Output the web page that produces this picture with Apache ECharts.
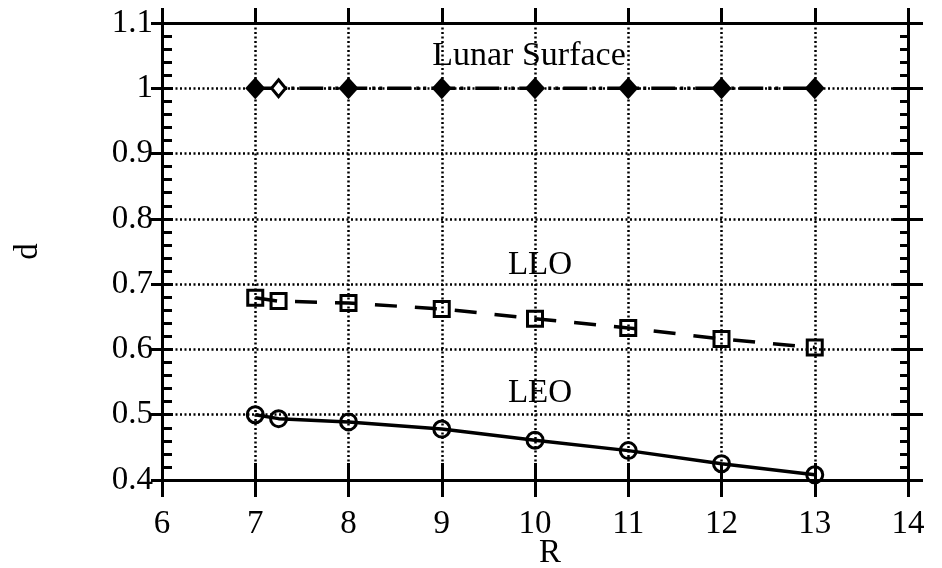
<!DOCTYPE html>
<html>
<head>
<meta charset="utf-8">
<script src="https://cdn.jsdelivr.net/npm/echarts@6/dist/echarts.min.js"></script>
<style>html,body{margin:0;padding:0;background:#fff}#c{width:942px;height:568px}</style>
</head>
<body>
<div id="c"></div>
<script>
const R_values = [7, 7.25, 8, 9, 10, 11, 12, 13];
const lunarSurface = [1.0, 1.0, 1.0, 1.0, 1.0, 1.0, 1.0, 1.0];
const llo = [0.679, 0.674, 0.671, 0.662, 0.647, 0.633, 0.616, 0.603];
const leo = [0.500, 0.494, 0.489, 0.478, 0.461, 0.445, 0.425, 0.408];
const seriesNames = ['Lunar Surface', 'LLO', 'LEO'];
const xTicks = [6, 7, 8, 9, 10, 11, 12, 13, 14];
const yTickLabels = ['0.4', '0.5', '0.6', '0.7', '0.8', '0.9', '1', '1.1'];

const FONT = '"Liberation Serif", "Times New Roman", serif';
const BLACK = '#000';
const FS = 33;

function pairs(xs, ys) { return xs.map((x, i) => [x, ys[i]]); }

const chart = echarts.init(document.getElementById('c'), null, {renderer: 'canvas'});

function xAx(pos, inside, len, opts) {
  return Object.assign({
    type: 'value', position: pos, min: 6, max: 14, interval: 1,
    axisLine: {show: true, onZero: false, lineStyle: {color: BLACK, width: 3}},
    axisTick: {show: true, inside: inside, length: len, lineStyle: {color: BLACK, width: 3}},
    axisLabel: {show: false},
    splitLine: {show: false}
  }, opts || {});
}
function yAx(pos, inside, len, opts) {
  return Object.assign({
    type: 'value', position: pos, min: 0.4, max: 1.1, interval: 0.1,
    axisLine: {show: true, onZero: false, lineStyle: {color: BLACK, width: 3}},
    axisTick: {show: true, inside: inside, length: len, lineStyle: {color: BLACK, width: 3}},
    axisLabel: {show: false},
    splitLine: {show: false}
  }, opts || {});
}

const openStyle = {color: 'rgba(0,0,0,0)', borderColor: BLACK, borderWidth: 3};

chart.setOption({
  animation: false,
  backgroundColor: '#fff',
  grid: {left: 162, right: 34, top: 23, bottom: 88, containLabel: false, outerBoundsMode: 'none'},
  xAxis: [
    xAx('bottom', false, 17, {
      name: 'R', nameLocation: 'middle', nameGap: 57, nameMoveOverlap: false,
      nameTextStyle: {fontFamily: FONT, fontSize: FS, color: BLACK, padding: [0, 0, 0, 30]},
      axisLabel: {show: true, fontFamily: FONT, fontSize: FS, color: BLACK, margin: 28,
        formatter: v => String(xTicks[xTicks.indexOf(v)])},
      splitLine: {show: true, lineStyle: {color: BLACK, width: 2.5, type: [2, 2.5]}}
    }),
    xAx('bottom', true, 17),
    xAx('top', false, 15)
  ],
  yAxis: [
    yAx('left', false, 11, {
      name: 'd', nameLocation: 'middle', nameGap: 117, nameRotate: 90, nameMoveOverlap: false,
      nameTextStyle: {fontFamily: FONT, fontSize: FS, color: BLACK},
      axisLabel: {show: true, fontFamily: FONT, fontSize: FS, color: BLACK, margin: 9,
        formatter: v => yTickLabels[Math.round((v - 0.4) * 10)]},
      splitLine: {show: true, lineStyle: {color: BLACK, width: 2.5, type: [2, 2.5]}}
    }),
    yAx('left', true, 11, {minorTick: {show: true, splitNumber: 5, length: 10, lineStyle: {color: BLACK, width: 3}}}),
    yAx('right', false, 15),
    yAx('right', true, 15, {minorTick: {show: true, splitNumber: 5, length: 8, lineStyle: {color: BLACK, width: 3}}})
  ],
  series: [
    {
      name: seriesNames[0], type: 'line', xAxisIndex: 0, yAxisIndex: 0, z: 5,
      data: pairs(R_values, lunarSurface).map((p, i) => i === 1
        ? {value: p, symbolSize: [14, 17], itemStyle: {color: '#fff', borderColor: BLACK, borderWidth: 3}}
        : {value: p}),
      symbol: 'diamond', symbolSize: [20, 22],
      itemStyle: {color: BLACK, borderColor: BLACK, borderWidth: 0},
      lineStyle: {color: BLACK, width: 3.5, type: [24, 5, 3, 4, 3, 5]}
    },
    {
      name: seriesNames[1], type: 'line', xAxisIndex: 0, yAxisIndex: 0, z: 5,
      data: pairs(R_values, llo),
      symbol: 'rect', symbolSize: 15,
      itemStyle: openStyle,
      lineStyle: {color: BLACK, width: 3.5, type: [22, 18]}
    },
    {
      name: seriesNames[2], type: 'line', xAxisIndex: 0, yAxisIndex: 0, z: 5,
      data: pairs(R_values, leo),
      symbol: 'circle', symbolSize: 16,
      itemStyle: openStyle,
      lineStyle: {color: BLACK, width: 3.5}
    }
  ],
  graphic: [
    {type: 'text', x: 529, y: 56, z: 10, style: {text: seriesNames[0], font: '34px ' + FONT, fill: BLACK, textAlign: 'center', textVerticalAlign: 'middle'}},
    {type: 'text', x: 540, y: 265, z: 10, style: {text: seriesNames[1], font: FS + 'px ' + FONT, fill: BLACK, textAlign: 'center', textVerticalAlign: 'middle'}},
    {type: 'text', x: 540, y: 393, z: 10, style: {text: seriesNames[2], font: FS + 'px ' + FONT, fill: BLACK, textAlign: 'center', textVerticalAlign: 'middle'}}
  ]
});
</script>
</body>
</html>
